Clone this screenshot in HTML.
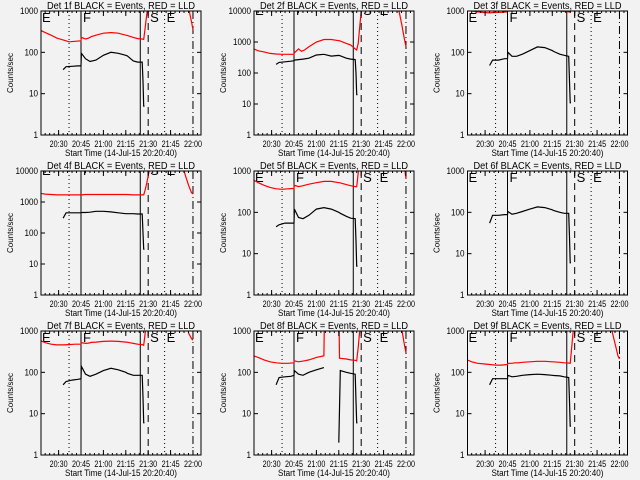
<!DOCTYPE html>
<html><head><meta charset="utf-8"><style>
body{margin:0;background:#f2f2f2;}
svg{display:block;font-family:"Liberation Sans",sans-serif;}
</style></head><body>
<svg id="c" width="640" height="480" viewBox="0 0 640 480">
<rect width="640" height="480" fill="#f2f2f2"/>
</svg>
<script>
// Shared time grids (minutes relative to 20:45)
const tRed = [-27,-24,-20,-16,-12,-8,-4,0,0.3,3,5,7,10,15,20,20.5,25,30,30.5,35,38,41,42,43,44,45,46];
const tRed2 = [66,68,70,72,74,75];
const tBlack = [-12,-10,-6,-2,0,0.3,3,6,10,15,20,25,30,31,35,38,41,41.5,42,42.5];
const xTickLabels = ["20:30","20:45","21:00","21:15","21:30","21:45","22:00"];
const xTickTimes = [-15,0,15,30,45,60,75];
const detNames = ["1f","2f","3f","4f","5f","6f","7f","8f","9f"];
const yMaxes = [1000,10000,1000,10000,1000,1000,1000,1000,1000];
const red1 = [340,300,260,220,200,180,185,190,230,210,220,240,260,290,300,300,290,260,260,230,215,210,205,400,800,1500,3000];
const red2 = [600,520,480,430,410,400,400,400,450,600,500,550,700,1000,1200,1200,1200,1100,1100,900,800,600,550,900,3000,10000,20000];
const red3 = [1050,1000,950,920,900,920,930,950,1000,1000,1000,1050,1050,1050,1050,1050,1050,1020,1020,1000,980,950,950,1100,3000,5000,5000];
const red4 = [1900,1800,1750,1700,1700,1700,1700,1700,1700,1750,1750,1750,1750,1750,1750,1750,1750,1750,1750,1700,1700,1700,1700,2500,4000,7000,12000];
const red5 = [600,520,450,400,370,360,370,380,450,420,430,450,480,520,560,560,560,520,520,470,440,420,420,900,1500,3000,5000];
const red6 = [5000,5000,5000,5000,5000,5000,5000,5000,5000,5000,5000,5000,5000,5000,5000,5000,5000,5000,5000,5000,5000,5000,5000,5000,5000,5000,5000];
const red7 = [580,520,480,460,460,470,480,480,520,500,510,530,540,560,570,570,560,540,540,500,480,470,450,900,1500,3000,5000];
const red8 = [250,230,200,180,170,165,165,170,190,180,185,190,200,230,250,5000,5000,5000,220,210,200,195,190,400,1000,3000,5000];
const red9 = [200,180,165,160,155,150,150,155,165,165,170,170,175,180,185,185,185,180,180,175,170,168,165,400,1000,3000,5000];
const redB1 = [5000,5000,5000,1200,550,350];
const redB2 = [20000,20000,12000,4000,1200,700];
const redB3 = [5000,5000,5000,5000,5000,5000];
const redB4 = [20000,15000,7000,3500,2000,1800];
const redB5 = [5000,5000,5000,5000,1200,650];
const redB6 = [5000,5000,5000,5000,5000,5000];
const redB7 = [5000,5000,5000,900,650,600];
const redB8 = [5000,5000,5000,1200,450,300];
const redB9 = [5000,5000,1000,500,250,210];
const blk1 = [38,45,46,47,47,95,70,60,65,85,100,95,85,82,62,58,58,20,5,5];
const blk2 = [190,220,230,240,250,260,270,280,300,380,400,350,370,360,300,280,270,100,20,20];
const blk3 = [48,65,65,70,70,100,80,80,90,110,135,130,110,105,90,85,80,20,6,6];
const blk4 = [300,450,450,450,450,460,460,470,500,500,480,450,420,420,420,410,410,100,30,30];
const blk5 = [45,50,55,55,55,120,75,70,85,120,130,120,100,95,80,72,70,20,5,5];
const blk6 = [55,85,85,88,88,105,90,95,105,120,135,130,115,110,100,95,95,25,6,6];
const blk7 = [50,60,65,68,70,140,90,80,90,110,125,115,100,95,85,85,85,25,6,6];
const blk8 = [50,75,78,80,85,110,90,85,100,115,130,null,2,110,100,95,90,20,6,6];
const blk9 = [50,70,70,70,70,85,78,80,85,88,90,88,85,84,82,78,75,20,5,5];
// event markers (minutes rel. 20:45)
const markerTimes = [-8,0,39.7,45,56,75];
const markerDash = ["1,3","","","7,5","1,3","8,3,1,3"];
const letterTimes = [-26.8,0,45,56];
const letterText = ["E","F","S","E"];

const reds=[red1,red2,red3,red4,red5,red6,red7,red8,red9];
const redsB=[redB1,redB2,redB3,redB4,redB5,redB6,redB7,redB8,redB9];
const blks=[blk1,blk2,blk3,blk4,blk5,blk6,blk7,blk8,blk9];
const NS="http://www.w3.org/2000/svg";
const svg=document.getElementById('c');
function mk(tag,attrs,parent){const e=document.createElementNS(NS,tag);for(const k in attrs)e.setAttribute(k,attrs[k]);(parent||svg).appendChild(e);return e;}
const colX=[41,254,467.5], rowY=[11,171,331], W=160, H=124;

for(let p=0;p<9;p++){
  const L=colX[p%3], T=rowY[Math.floor(p/3)];
  const ymax=yMaxes[p], dec=Math.log10(ymax);
  const X=t=>L+40+t*1.493;
  const Y=v=>T+H-Math.log10(v)/dec*H;
  const g=mk('g',{});
  
  
  const cid='clip'+p;
  const cp=mk('clipPath',{id:cid},g);
  mk('rect',{x:L,y:T,width:W,height:H},cp);
  const ttl=mk('text',{x:L+6,y:T-2,'font-size':'10',textLength:'148',lengthAdjust:'spacingAndGlyphs'},g);
  ttl.textContent='Det '+detNames[p]+' BLACK = Events, RED = LLD';
  
  
  const plot=mk('g',{'clip-path':'url(#'+cid+')'},g);
  markerTimes.forEach((t,i)=>{
    const ln=mk('line',{x1:X(t),x2:X(t),y1:T,y2:T+H,stroke:'#000','stroke-width':1,'stroke-dasharray':markerDash[i]},plot);
    
    
  });
  letterTimes.forEach((t,i)=>{
    const tx=mk('text',{x:(i==0?L+1:X(t)+2),y:(dec>3?T+4:T+11),'font-size':'13'},plot);
    tx.textContent=letterText[i];
    
    
  });
  function line(ts,vs,col,name){
    let d='',pen=false;
    ts.forEach((t,i)=>{const v=vs[i];if(v==null){pen=false;return;}
      d+=(pen?'L':'M')+X(t).toFixed(1)+' '+Y(v).toFixed(1);pen=true;});
    const pa=mk('path',{d:d,fill:'none',stroke:col,'stroke-width':1.2},plot);
    
    
  }
  line(tRed,reds[p],'#ff0000','lld-series');
  line(tRed2,redsB[p],'#ff0000','lld-series-late');
  line(tBlack,blks[p],'#000','events-series');
  const fr=mk('rect',{x:L,y:T,width:W,height:H,fill:'none',stroke:'#000','stroke-width':1},g);
  
  
  for(let k=0;k<=dec;k++){
    const v=Math.pow(10,k),y=Y(v);
    mk('line',{x1:L,x2:L+4,y1:y,y2:y,stroke:'#000'},g);
    mk('line',{x1:L+W-4,x2:L+W,y1:y,y2:y,stroke:'#000'},g);
    const s=String(v);
    const lb=mk('text',{x:L-3-s.length*4.5,y:y+3,'font-size':'9',textLength:String(s.length*4.5),lengthAdjust:'spacingAndGlyphs'},g);
    lb.textContent=s;
    
    
  }
  for(let t=-27;t<=80;t+=3){const x=X(t);if(x<L||x>L+W)continue;
    mk('line',{x1:x,x2:x,y1:T,y2:T+2,stroke:'#000'},g);
    mk('line',{x1:x,x2:x,y1:T+H-2,y2:T+H,stroke:'#000'},g);}
  xTickTimes.forEach((t,i)=>{const x=X(t);
    mk('line',{x1:x,x2:x,y1:T,y2:T+5,stroke:'#000'},g);
    mk('line',{x1:x,x2:x,y1:T+H-5,y2:T+H,stroke:'#000'},g);
    const lb=mk('text',{x:x-9,y:T+H+12,'font-size':'9',textLength:'18',lengthAdjust:'spacingAndGlyphs'},g);
    lb.textContent=xTickLabels[i];
    
    
  });
  const xt=mk('text',{x:L+24,y:T+H+21,'font-size':'9.5',textLength:'112',lengthAdjust:'spacingAndGlyphs'},g);
  xt.textContent='Start Time (14-Jul-15 20:20:40)';
  
  
  const yt=mk('text',{x:-20,y:0,'font-size':'8.5',textLength:'40',lengthAdjust:'spacingAndGlyphs',transform:'translate('+(L-28)+','+(T+62)+') rotate(-90)'},g);
  yt.textContent='Counts/sec';
  
  
}
</script>
</body></html>
